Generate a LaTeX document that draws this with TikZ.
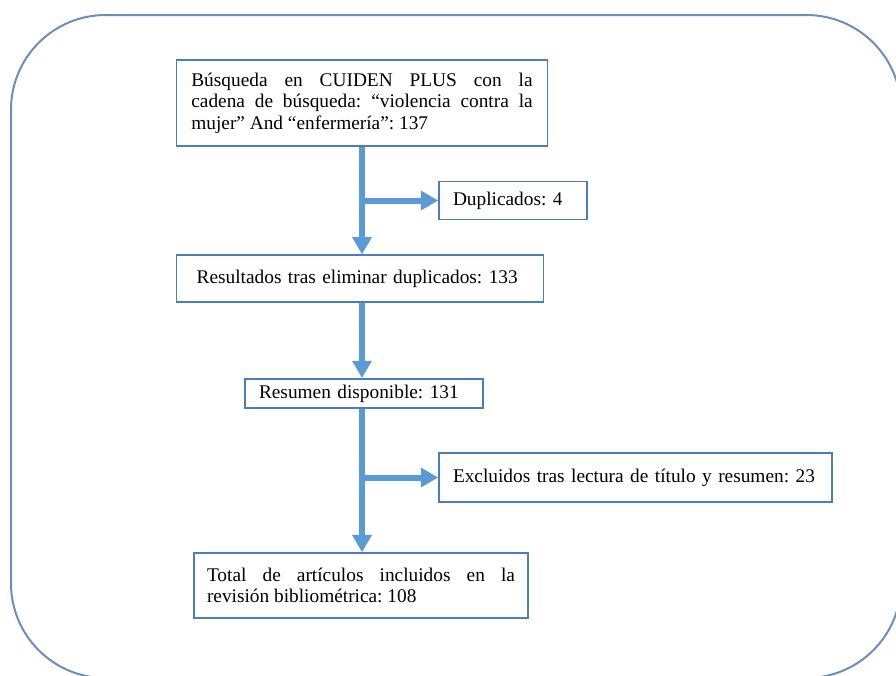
\documentclass[tikz,border=0pt]{standalone}
\usepackage{fontspec}
\setmainfont{Liberation Serif}
\usepackage{xcolor}
\usepackage{tikz}
\usetikzlibrary{arrows.meta}
\definecolor{azulflecha}{RGB}{91,155,213}
\definecolor{azulborde}{RGB}{74,126,187}
\definecolor{azulmarco}{RGB}{108,142,186}
\frenchspacing

\begin{document}
\begin{tikzpicture}[x=0.75pt, y=-0.75pt, font=\fontsize{14.5}{16.2}\selectfont,
  caja/.style={draw=azulborde, line width=1.1pt, fill=white, inner ysep=2pt, align=left},
  flecha/.style={draw=azulflecha, line width=4.5pt, -{Triangle[width=14pt,length=13pt]}}]
  \useasboundingbox (0,0) rectangle (896,675);
  \draw[azulmarco, line width=1.5pt, rounded corners=71pt] (11,15) rectangle (901,678);

  % cajas
  \node[caja, align=justify, text width=256pt, inner xsep=11pt, minimum height=64.5pt] (busqueda) at (362,103)
    {Búsqueda en CUIDEN PLUS con la\linebreak cadena de búsqueda: “violencia contra la\linebreak mujer” And “enfermería”: 137};
  \node[caja, text width=90pt, inner xsep=10.5pt, minimum height=28.5pt] (duplicados) at (513,200.5) {Duplicados: 4};
  \node[caja, text width=245pt, inner xsep=15pt, minimum height=35pt] (resultados) at (360,278.5) {Resultados tras eliminar duplicados: 133};
  \node[caja, text width=157.5pt, inner xsep=10.5pt, minimum height=22pt] (resumen) at (364,393.5) {Resumen disponible: 131};
  \node[caja, text width=273.75pt, inner xsep=10.5pt, minimum height=36.75pt] (excluidos) at (635.5,477.5) {Excluidos tras lectura de título y resumen: 23};
  \node[caja, align=justify, text width=231pt, inner xsep=9.75pt, minimum height=48.75pt] (total) at (361,585.5)
    {Total de artículos incluidos en la\linebreak revisión bibliométrica: 108};

  % flechas
  \draw[flecha] (busqueda.south) -- (resultados.north -| busqueda.south);
  \draw[flecha] (busqueda.south |- duplicados.west) -- (duplicados.west);
  \draw[flecha] (resultados.south -| busqueda.south) -- (resumen.north -| busqueda.south);
  \draw[flecha] (resumen.south -| busqueda.south) -- (total.north -| busqueda.south);
  \draw[flecha] (busqueda.south |- excluidos.west) -- (excluidos.west);
\end{tikzpicture}
\end{document}
